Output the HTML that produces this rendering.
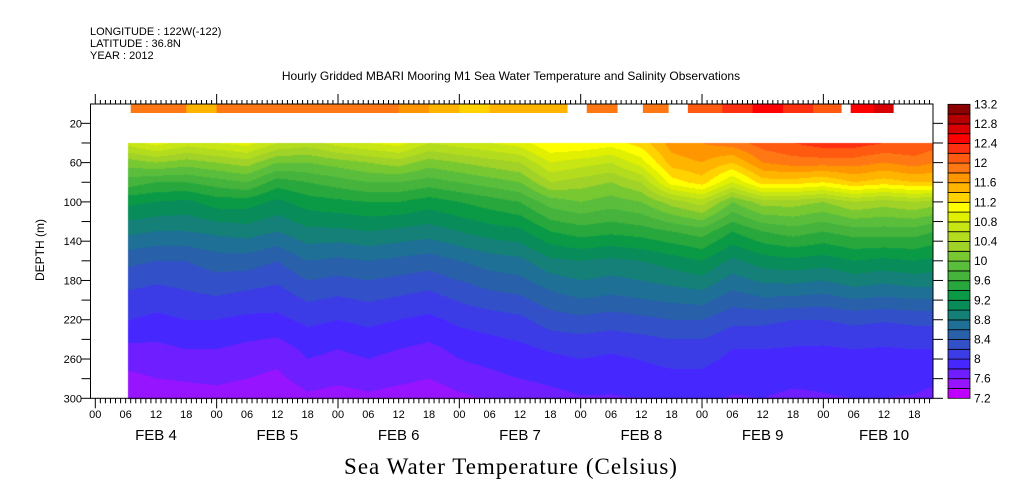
<!DOCTYPE html>
<html><head><meta charset="utf-8">
<style>
body{margin:0;background:#fff;width:1009px;height:504px;overflow:hidden;position:relative;font-family:"Liberation Sans",sans-serif;}
svg{position:absolute;left:0;top:0}
canvas{position:absolute;left:0;top:0}
</style></head><body>
<canvas id="cv" width="1009" height="504"></canvas>
<svg id="sv" width="1009" height="504"></svg>
<script>
// ---- data ----
const depths = [40,60,80,100,130,160,190,220,250,280,300];
const hours = [7,12,18,24,30,36,42,48,54,60,66,72,78,84,90,96,102,108,114,120,126,132,138,144,150,156,162,166];
const profiles = [
[10.7,10.1,9.7,9.25,8.85,8.45,8.2,8.0,7.75,7.55,7.4],
[10.9,10.2,9.6,9.2,8.8,8.4,8.15,7.95,7.75,7.6,7.45],
[10.7,10.1,9.6,9.15,8.8,8.4,8.2,8.0,7.8,7.62,7.5],
[10.8,10.2,9.7,9.3,8.85,8.5,8.25,8.0,7.8,7.65,7.5],
[10.9,10.3,9.8,9.3,8.9,8.5,8.2,7.95,7.75,7.6,7.45],
[10.6,10.0,9.5,9.15,8.8,8.4,8.15,7.95,7.7,7.55,7.4],
[10.5,10.0,9.6,9.3,8.95,8.6,8.3,8.05,7.85,7.7,7.55],
[10.7,10.1,9.7,9.35,8.95,8.55,8.25,8.0,7.8,7.65,7.5],
[10.8,10.2,9.8,9.4,9.0,8.6,8.3,8.05,7.85,7.7,7.55],
[10.9,10.3,9.8,9.4,8.95,8.55,8.25,8.0,7.8,7.65,7.5],
[10.6,10.1,9.7,9.3,8.9,8.5,8.2,7.95,7.75,7.6,7.45],
[10.7,10.2,9.8,9.4,9.0,8.6,8.3,8.05,7.85,7.7,7.55],
[10.8,10.3,9.9,9.5,9.1,8.7,8.4,8.1,7.9,7.75,7.62],
[10.9,10.4,10.0,9.6,9.15,8.75,8.45,8.15,7.95,7.8,7.65],
[11.2,10.8,10.4,9.9,9.4,8.95,8.6,8.3,8.02,7.85,7.72],
[11.2,10.7,10.3,10.0,9.5,9.0,8.7,8.35,8.05,7.9,7.78],
[11.1,10.6,10.2,9.9,9.45,8.95,8.65,8.3,8.02,7.88,7.78],
[11.3,10.9,10.4,10.0,9.5,9.0,8.7,8.35,8.05,7.92,7.8],
[11.7,11.5,11.1,10.3,9.6,9.1,8.75,8.4,8.1,7.95,7.85],
[11.8,11.6,11.3,10.5,9.7,9.2,8.8,8.4,8.1,7.95,7.85],
[11.9,11.4,10.8,10.0,9.4,8.95,8.6,8.25,8.0,7.88,7.78],
[12.1,11.8,11.3,10.3,9.6,9.1,8.7,8.25,8.0,7.88,7.8],
[12.2,11.9,11.3,10.3,9.7,9.15,8.7,8.2,7.98,7.85,7.75],
[12.3,11.9,11.2,10.2,9.6,9.1,8.65,8.2,7.97,7.85,7.78],
[12.3,11.9,11.4,10.4,9.7,9.2,8.75,8.25,8.0,7.88,7.8],
[12.2,11.8,11.3,10.3,9.7,9.15,8.7,8.22,7.98,7.87,7.8],
[12.2,11.9,11.4,10.4,9.7,9.2,8.75,8.25,8.0,7.88,7.78],
[12.1,11.8,11.4,10.3,9.6,9.15,8.75,8.25,8.0,7.85,7.72]
];
const surfHours = [7,12,18,24,30,36,42,48,54,60,66,72,78,84,90,93.3,97.2,103.2,108.3,113.3,117.2,124,130,136,142,147.5,149.4,154,157.8];
const surfVals = [11.8,11.9,11.5,11.8,11.9,11.8,12.0,11.8,11.9,11.7,11.5,11.3,11.6,11.5,11.6,null,12.0,null,11.9,null,12.2,12.3,12.5,12.3,12.2,null,12.5,12.7,null];
const depthTicks = [20,60,100,140,180,220,260,300];
const hourLabels = ["00","06","12","18"];
const dayLabels = ["FEB  4","FEB  5","FEB  6","FEB  7","FEB  8","FEB  9","FEB 10"];
const levels = [7.2,7.6,8,8.4,8.8,9.2,9.6,10,10.4,10.8,11.2,11.6,12,12.4,12.8,13.2];
const palette = ["#c000ff","#9614ff","#6e1eff","#4628ff","#3c3ce6","#3250c8","#2860aa","#1e7096","#148078","#088c5a","#0a9a46","#28a83c","#46b43c","#5abe3c","#78c832","#a0d228","#b4dc1e","#c8e614","#e0f000","#ffff00","#ffd200","#ffb400","#ff9600","#ff7814","#ff5a10","#ff3010","#ff0000","#d80000","#b40000","#8b0000"];
// ---- axes ----
const X0=90.5, X1=933, YT=104, YB=398.3;
const xh = h => 95.3 + h*5.056;
const yd = d => 103.7 + d*0.982;
const cmin=7.2, cmax=13.2, step=0.2;
function colorOf(v){let i=Math.floor((v-cmin)/step);if(i<0)i=0;if(i>29)i=29;return palette[i];}
function interp(arr,v){
  if(v<=arr[0])return [0,0]; if(v>=arr[arr.length-1])return [arr.length-2,1];
  for(let i=0;i<arr.length-1;i++){if(v<=arr[i+1])return [i,(v-arr[i])/(arr[i+1]-arr[i])];}
}
function valueAt(h,d){
  const [ti,tf]=interp(hours,h),[di,df]=interp(depths,d);
  const a=profiles[ti][di],b=profiles[ti][di+1],c=profiles[ti+1][di],e=profiles[ti+1][di+1];
  return (a*(1-df)+b*df)*(1-tf)+(c*(1-df)+e*df)*tf;
}
const ctx=document.getElementById('cv').getContext('2d');
const xs=Math.max(X0,xh(hours[0])-2), xe=Math.min(X1,xh(hours[hours.length-1]));
for(let x=Math.floor(xs);x<xe;x++){
  const h=(x+0.5-95.3)/5.056;
  for(let y=Math.round(yd(depths[0]));y<YB;y++){
    const d=(y+0.5-103.7)/0.982;
    ctx.fillStyle=colorOf(valueAt(h,d));ctx.fillRect(x,y,1,1);
  }
}
const NS='http://www.w3.org/2000/svg', sv=document.getElementById('sv');
function el(tag,attrs,txt){const e=document.createElementNS(NS,tag);for(const k in attrs)e.setAttribute(k,attrs[k]);if(txt!==undefined)e.textContent=txt;sv.appendChild(e);return e;}
for(let i=0;i<surfHours.length-1;i++){
  if(surfVals[i]===null)continue;
  const r=el('rect',{x:xh(surfHours[i]),y:104,width:xh(surfHours[i+1])-xh(surfHours[i])+0.5,height:9,fill:colorOf(surfVals[i])});
  
  
}
const fr=el('rect',{x:X0,y:YT,width:X1-X0,height:YB-YT,fill:'none',stroke:'#000','stroke-width':1});


for(let h=0;h<=166;h++){
  const x=xh(h); if(x>X1)break;
  const day=h%24===0, six=h%6===0;
  el('line',{x1:x,x2:x,y1:YB,y2:YB+(day?10:5),stroke:'#000'});
  el('line',{x1:x,x2:x,y1:YT,y2:YT-(day?10:4),stroke:'#000'});
  if(six){
    const t=el('text',{x:x,y:418,'text-anchor':'middle','font-size':11},hourLabels[(h%24)/6]);
    
    
  }
}
for(let i=0;i<dayLabels.length;i++){
  const t=el('text',{x:xh(i*24+12),y:440,'text-anchor':'middle','font-size':15},dayLabels[i]);
  
  
}
for(let d=20;d<=300;d+=20){
  const y=yd(d);
  el('line',{x1:X0,x2:X0-9,y1:y,y2:y,stroke:'#000'});
  el('line',{x1:X1,x2:X1+10,y1:y,y2:y,stroke:'#000'});
}
for(const d of depthTicks){
  const t=el('text',{x:82,y:yd(d)+4,'text-anchor':'end','font-size':11},String(d));
  
  
}
const CB0=948,CB1=970;
for(let i=0;i<30;i++){
  const y0=398.3-(i+1)*9.8;
  const r=el('rect',{x:CB0,y:y0,width:CB1-CB0,height:9.8,fill:palette[i],stroke:'#000','stroke-width':0.8});
  
  
}
for(let i=0;i<levels.length;i++){
  const t=el('text',{x:974,y:398.3-i*19.6+4,'font-size':12},String(levels[i]));
  
  
}
</script>
<svg width="1009" height="504" style="pointer-events:none">
<g font-family="Liberation Sans, sans-serif" font-size="11">
<text x="90" y="35">LONGITUDE : 122W(-122)</text>
<text x="90" y="47">LATITUDE : 36.8N</text>
<text x="90" y="59">YEAR : 2012</text>
<text x="511" y="80" font-size="12" text-anchor="middle">Hourly Gridded MBARI Mooring M1 Sea Water Temperature and Salinity Observations</text>
<text x="0" y="0" font-size="12" text-anchor="middle" transform="translate(44,250) rotate(-90)">DEPTH (m)</text>
<text x="511" y="474" font-family="Liberation Serif, serif" font-size="23" text-anchor="middle" letter-spacing="1">Sea Water Temperature (Celsius)</text>
</g></svg>
</body></html>
